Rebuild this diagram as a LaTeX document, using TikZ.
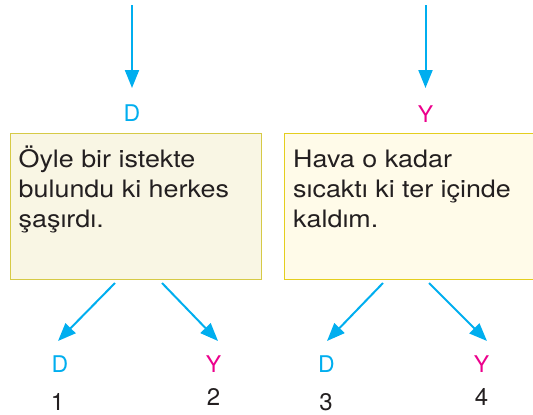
\documentclass[tikz,border=0pt]{standalone}
\usepackage{fontspec}
\setmainfont{TeX Gyre Heros}
\newfontfamily\widefont[FakeStretch=1.12]{TeX Gyre Heros}
\usetikzlibrary{arrows.meta}
\definecolor{arrowcyan}{RGB}{0,174,239}
\definecolor{ymag}{RGB}{236,0,140}
\definecolor{txtgray}{RGB}{35,31,32}
\definecolor{boxfillA}{RGB}{249,246,228}
\definecolor{boxfillB}{RGB}{255,251,233}
\definecolor{boxlineA}{RGB}{214,202,70}
\definecolor{boxlineB}{RGB}{228,206,30}
\tikzset{
  conn/.style={draw=arrowcyan, line width=2pt, -{Triangle[length=18pt,width=14pt]}},
  dlabel/.style={text=arrowcyan, font=\fontsize{23}{23}\selectfont, inner sep=0pt, anchor=base},
  ylabel/.style={text=ymag, font=\fontsize{23}{23}\selectfont, inner sep=0pt, anchor=base},
  numlabel/.style={text=txtgray, font=\fontsize{24}{24}\selectfont, inner sep=0pt, anchor=base},
  boxtext/.style={text=txtgray, font=\widefont\fontsize{24}{29.75}\selectfont, inner sep=0pt, align=left, anchor=base west},
}
\begin{document}
\begin{tikzpicture}[x=1pt,y=-1pt]
\useasboundingbox (0,0) rectangle (533,415);
\begin{scope}
\clip (0,0) rectangle (533,415);
% boxes
\draw[fill=boxfillA, draw=boxlineA, line width=1pt] (10,133) rectangle (261,279);
\coordinate (boxA) at (135.5,279);
\draw[fill=boxfillB, draw=boxlineB, line width=1pt] (284,133) rectangle (545,279);
\coordinate (boxB) at (414,279);
\end{scope}
\node[boxtext] (tA) at (18.5,227) {Öyle bir istekte\\bulundu ki herkes\\şaşırdı.};
\node[boxtext] (tB) at (293,227) {Hava o kadar\\sıcaktı ki ter içinde\\kaldım.};
% top labels and arrows
\node[dlabel] (topD) at (132,121) {D};
\node[ylabel] (topY) at (425.5,122) {Y};
\coordinate (topAs) at (132,5);
\coordinate (topAe) at (132,88);
\coordinate (topBs) at (425.5,5);
\coordinate (topBe) at (425.5,88);
\draw[conn] (topAs) -- (topAe);
\draw[conn] (topBs) -- (topBe);
% bottom arrows
\coordinate (a1s) at (115,283); \coordinate (a1e) at (58,341);
\coordinate (a2s) at (162,283); \coordinate (a2e) at (218,341);
\coordinate (a3s) at (383,283); \coordinate (a3e) at (327,341);
\coordinate (a4s) at (429,283); \coordinate (a4e) at (487,341);
\draw[conn] (a1s) -- (a1e);
\draw[conn] (a2s) -- (a2e);
\draw[conn] (a3s) -- (a3e);
\draw[conn] (a4s) -- (a4e);
% bottom labels
\node[dlabel] (d1) at (60,372) {D};
\node[ylabel] (y2) at (213.5,372) {Y};
\node[dlabel] (d3) at (326.5,372) {D};
\node[ylabel] (y4) at (481.5,372) {Y};
\node[numlabel] (n1) at (57.5,410) {1};
\node[numlabel] (n2) at (213.5,405) {2};
\node[numlabel] (n3) at (326,410) {3};
\node[numlabel] (n4) at (481.5,405) {4};
\end{tikzpicture}
\end{document}
